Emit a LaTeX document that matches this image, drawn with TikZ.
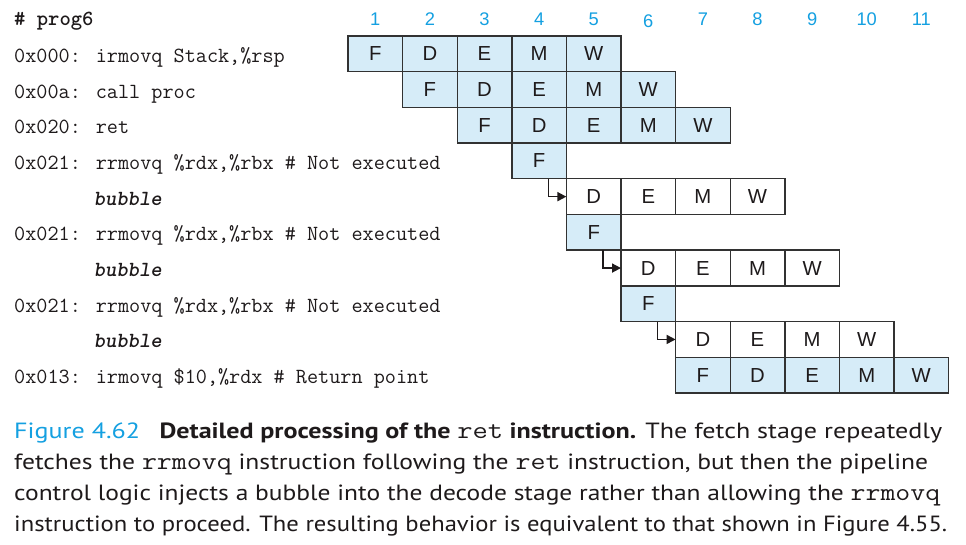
\documentclass[tikz,border=0pt]{standalone}
\usepackage{fontspec}
\usepackage{graphicx}
\usetikzlibrary{arrows.meta,calc}
\newfontfamily\lsans{Liberation Sans}
\newfontfamily\capsans{PT Sans}
\definecolor{figcyan}{RGB}{20,160,225}
\definecolor{boxfill}{RGB}{214,236,248}
\definecolor{boxline}{RGB}{50,50,50}
\definecolor{textdark}{RGB}{30,26,27}
\newcommand\stagefnt{\lsans\fontsize{20.3}{22}\selectfont}
\newcommand\numfnt{\lsans\fontsize{18.3}{20}\selectfont}
\newcommand\codefnt{\ttfamily\fontsize{21.6}{24}\selectfont}
\newcommand\capfnt{\capsans\fontsize{22}{24}\selectfont}
\newcommand\captt[1]{{\mdseries\ttfamily\fontsize{25}{24}\selectfont #1}}
\newlength\fitw
\newcommand\fitline[2]{\sbox0{#2}\setlength\fitw{\wd0}\pgfmathsetmacro\fitsx{#1/\fitw}\scalebox{\fitsx}[1]{\usebox0}}
\tikzset{
  stagebox/.style={draw=boxline, line width=1.4pt, minimum width=54.6pt, minimum height=35.7pt,
    inner sep=0pt, outer sep=0pt, font=\stagefnt, text=textdark},
  stagefill/.style={stagebox, fill=boxfill},
  stageplain/.style={stagebox, fill=white},
  cycnum/.style={font=\numfnt, text=figcyan, inner sep=0pt},
  codeline/.style={anchor=base west, inner sep=0pt, font=\codefnt, text=textdark},
  capline/.style={anchor=base west, inner sep=0pt, font=\capfnt, text=textdark},
  arr/.style={draw=textdark, line width=1.6pt, -{Triangle[length=9pt,width=9pt]}}
}
\begin{document}
\begin{tikzpicture}[x=1pt,y=-1pt]
\useasboundingbox[fill=white] (0,0) rectangle (966,545);
% cycle numbers
\foreach \c in {1,2,3,4,5,7,8,9,10,11}
  \node[cycnum] (n\c) at ({348+(\c-0.5)*54.6},19) {\c};
\node[cycnum] (n6) at ({348+5.5*54.6},21) {6};
% stage boxes
\foreach \r/\c/\l/\s in {
  1/1/F/stagefill, 1/2/D/stagefill, 1/3/E/stagefill, 1/4/M/stagefill, 1/5/W/stagefill,
  2/2/F/stagefill, 2/3/D/stagefill, 2/4/E/stagefill, 2/5/M/stagefill, 2/6/W/stagefill,
  3/3/F/stagefill, 3/4/D/stagefill, 3/5/E/stagefill, 3/6/M/stagefill, 3/7/W/stagefill,
  4/4/F/stagefill,
  5/5/D/stageplain, 5/6/E/stageplain, 5/7/M/stageplain, 5/8/W/stageplain,
  6/5/F/stagefill,
  7/6/D/stageplain, 7/7/E/stageplain, 7/8/M/stageplain, 7/9/W/stageplain,
  8/6/F/stagefill,
  9/7/D/stageplain, 9/8/E/stageplain, 9/9/M/stageplain, 9/10/W/stageplain,
  10/7/F/stagefill, 10/8/D/stagefill, 10/9/E/stagefill, 10/10/M/stagefill, 10/11/W/stagefill}
  \node[\s] (r\r c\c) at ({348+(\c-0.5)*54.6},{36+(\r-0.5)*35.7}) {\l};
% bubble arrows
\draw[arr] ([xshift=-18pt]r4c4.south east) |- (r5c5.west);
\draw[arr] ([xshift=-18pt]r6c5.south east) |- (r7c6.west);
\draw[arr] ([xshift=-18pt]r8c6.south east) |- (r9c7.west);
% code lines
\node[codeline] (hdr) at (14,26) {\bfseries \# prog6};
\node[codeline] (l1) at (14,{36+0.5*35.7+8.5}) {0x000: irmovq Stack,\%rsp};
\node[codeline] (l2) at (14,{36+1.5*35.7+8.5}) {0x00a: call proc};
\node[codeline] (l3) at (14,{36+2.5*35.7+8.5}) {0x020: ret};
\node[codeline] (l4) at (14,{36+3.5*35.7+8.5}) {0x021: rrmovq \%rdx,\%rbx \# Not executed};
\node[codeline] (l5) at (93.5,{36+4.5*35.7+8.5}) {\bfseries\slshape bubble};
\node[codeline] (l6) at (14,{36+5.5*35.7+8.5}) {0x021: rrmovq \%rdx,\%rbx \# Not executed};
\node[codeline] (l7) at (93.5,{36+6.5*35.7+8.5}) {\bfseries\slshape bubble};
\node[codeline] (l8) at (14,{36+7.5*35.7+8.5}) {0x021: rrmovq \%rdx,\%rbx \# Not executed};
\node[codeline] (l9) at (93.5,{36+8.5*35.7+8.5}) {\bfseries\slshape bubble};
\node[codeline] (l10) at (14,{36+9.5*35.7+8.5}) {0x013: irmovq \$10,\%rdx \# Return point};
% caption
\node[capline] (c1) at (14,438) {\fitline{928}{{\color{figcyan}Figure 4.62}\hspace{0.75em}{\bfseries Detailed processing of the \captt{ret} instruction.} The fetch stage repeatedly}};
\node[capline] (c2) at (14,469) {\fitline{914}{fetches the \captt{rrmovq} instruction following the \captt{ret} instruction, but then the pipeline}};
\node[capline] (c3) at (14,500) {\fitline{926}{control logic injects a bubble into the decode stage rather than allowing the \captt{rrmovq}}};
\node[capline] (c4) at (14,531) {\fitline{933}{instruction to proceed. The resulting behavior is equivalent to that shown in Figure 4.55.}};
\end{tikzpicture}
\end{document}
